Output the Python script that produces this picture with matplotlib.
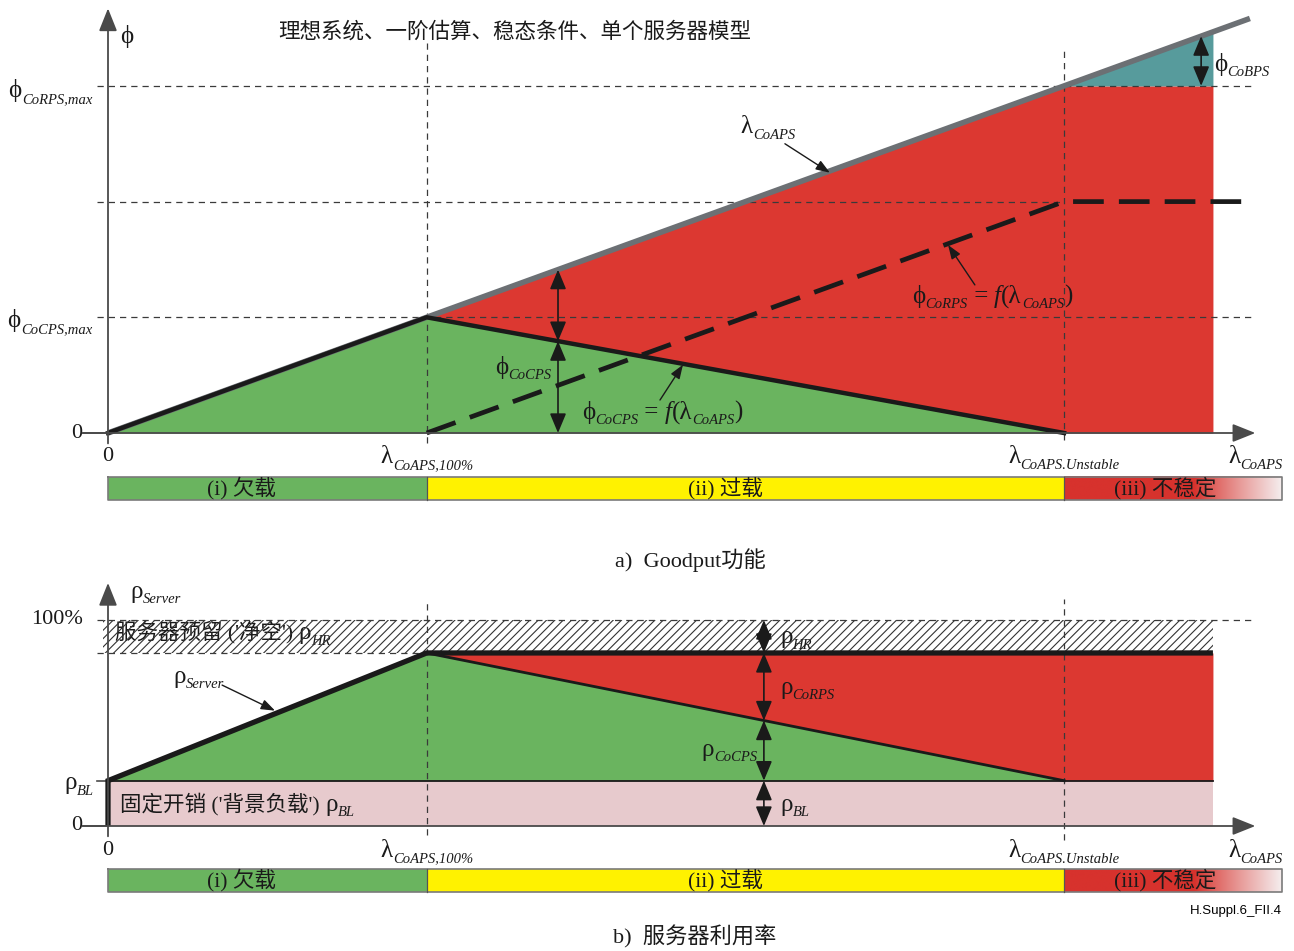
import numpy as np
import matplotlib
matplotlib.use("Agg")
import matplotlib.pyplot as plt

plt.rcParams["font.family"] = ["Liberation Serif", "DejaVu Serif", "Noto Sans CJK SC"]
plt.rcParams["hatch.linewidth"] = 0.8

# λ_CoAPS axis, normalised so that λ_CoAPS,100% = 1
LAM_100 = 1.0
LAM_UNSTABLE = 3.0
LAM_END = 3.467     # right edge of the shaded areas
LAM_AXIS = 3.60     # tip of the λ axis

# a) goodput function (φ in units of φ_CoCPS,max)
offered_lam = [0.0, 3.583]
offered_phi = [0.0, 3.583]
cocps_lam = [0.0, 1.0, 3.0]
cocps_phi = [0.0, 1.0, 0.0]
corps_lam = [1.0, 3.0, 3.568]
corps_phi = [0.0, 2.0, 2.0]
phi_levels = [1.0, 2.0, 3.0]     # φ_CoCPS,max, plateau, φ_CoRPS,max

# b) server utilisation, percent
rho_levels = [22.0, 84.0, 100.0]  # ρ_BL, 100% - ρ_HR, 100%
server_lam = [0.0, 0.0, 1.0, 3.467]
server_rho = [0.0, 22.0, 84.0, 84.0]
split_lam = [1.0, 3.0]
split_rho = [84.0, 22.0]

region_edges = [0.0, 1.0, 3.0, 3.684]
region_labels = ["(i) 欠载", "(ii) 过载", "(iii) 不稳定"]
region_colors = ["#6ab45f", "#fff200", "#d7322d"]
REGION_TEXT_X = [0.42, 1.936, 3.317]

GREEN = "#6ab45f"
RED = "#dc3831"
TEAL = "#579b9c"
GREY = "#6c7074"
PINK = "#e7cacd"
INK = "#1a1a1a"
DASH = "#3a3a3a"

W, H = 1294, 951
PX_LAM = 318.7
fig = plt.figure(figsize=(W / 100, H / 100), dpi=100)
fig.patch.set_facecolor("white")
renderer = fig.canvas.get_renderer()

XLIM = (-108 / PX_LAM, (W - 108) / PX_LAM)
ax1 = fig.add_axes([0, 1 - 520 / H, 1, 520 / H])
ax2 = fig.add_axes([0, 0, 1, 431 / H])


def label(ax, x, y, parts, ha="left", size=18, sub=10.5, zorder=6):
    """Symbol with italic subscripts, laid out piece by piece."""
    items = []
    for s, kind in parts:
        if kind == "sub":
            kw, dy = dict(fontsize=sub, style="italic"), -4.0
        elif kind == "it":
            kw, dy = dict(fontsize=size, style="italic"), 0.0
        elif kind == "cjk":
            kw, dy = dict(fontsize=15.5), 0.0
        else:
            kw, dy = dict(fontsize=size), 0.0
        t = ax.annotate(s, (x, y), xytext=(0, 0), textcoords="offset points",
                        va="baseline", ha="left", color=INK, zorder=zorder,
                        annotation_clip=False, **kw)
        w = t.get_window_extent(renderer).width * 72 / fig.dpi
        items.append((t, dy, w))
    total = sum(w for _, _, w in items)
    pos = {"left": 0.0, "center": -total / 2, "right": -total}[ha]
    for t, dy, w in items:
        t.xyann = (pos, dy - 4.0)
        pos += w


def dbl_arrow(ax, x, y0, y1):
    ax.annotate("", xy=(x, y1), xytext=(x, y0),
                arrowprops=dict(arrowstyle="<|-|>,head_length=0.6,head_width=0.25",
                                color=INK, lw=1.2, mutation_scale=20,
                                shrinkA=0, shrinkB=0), zorder=6)


def pointer(ax, xy, xytext):
    ax.annotate("", xy=xy, xytext=xytext,
                arrowprops=dict(arrowstyle="-|>,head_length=0.6,head_width=0.22",
                                color=INK, lw=1.0, mutation_scale=14,
                                shrinkA=0, shrinkB=0), zorder=6)


def axes_arrows(ax, y_top, y_tick):
    kw = dict(arrowstyle="-|>,head_length=0.7,head_width=0.28",
              color="#4a4a4a", lw=1.3, mutation_scale=20, shrinkA=0, shrinkB=0)
    ax.annotate("", xy=(0, y_top), xytext=(0, -y_tick), arrowprops=kw, zorder=7)
    ax.annotate("", xy=(LAM_AXIS, 0), xytext=(-0.08, 0), arrowprops=kw, zorder=7)


def region_strip(ax, y0, y1, label_y):
    for i, lab in enumerate(region_labels):
        a, b = region_edges[i], region_edges[i + 1]
        if i < 2:
            ax.fill_between([a, b], y0, y1, color=region_colors[i], lw=0, zorder=2)
        else:
            # unstable region fades out towards the right
            t = np.linspace(0, 1, 200)
            fade = np.clip((t - 0.6) / 0.4, 0, 1) ** 0.9
            c0 = np.array(matplotlib.colors.to_rgb(region_colors[i]))
            c1 = np.array([0.96, 0.93, 0.93])
            img = c0[None, :] * (1 - fade[:, None]) + c1[None, :] * fade[:, None]
            ax.imshow(img[None, :, :], extent=[a, b, y0, y1], aspect="auto",
                      zorder=2, interpolation="bilinear")
        ax.text(REGION_TEXT_X[i], label_y, lab, ha="center",
                va="center", fontsize=15.5, color=INK, zorder=4)
    e0, e1 = region_edges[0], region_edges[-1]
    ax.plot([e0, e1, e1, e0, e0], [y0, y0, y1, y1, y0], color="#7a7a7a", lw=1.2, zorder=3)
    for e in region_edges[1:-1]:
        ax.plot([e, e], [y0, y1], color="#555555", lw=0.9, zorder=3)


def lam_labels(ax, y, y0):
    ax.text(0, y0, "0", ha="center", va="center", fontsize=16, color=INK)
    label(ax, LAM_100, y, [("λ", "m"), ("CoAPS,100%", "sub")], ha="center")
    label(ax, LAM_UNSTABLE, y, [("λ", "m"), ("CoAPS.Unstable", "sub")], ha="center")
    label(ax, LAM_AXIS, y, [("λ", "m"), ("CoAPS", "sub")], ha="center")


dash_kw = dict(color=DASH, lw=0.9, ls=(0, (5, 4)), zorder=4)

# ---------------- a) goodput ----------------
x = np.array([LAM_100, LAM_UNSTABLE, LAM_END])
red_lo = np.interp(x, cocps_lam, cocps_phi, right=0.0)
red_hi = np.minimum(np.interp(x, offered_lam, offered_phi), phi_levels[2])
ax1.fill_between(cocps_lam, 0, cocps_phi, color=GREEN, lw=0, zorder=1)
ax1.fill_between(x, red_lo, red_hi, color=RED, lw=0, zorder=1)
xt = np.array([LAM_UNSTABLE, LAM_END])
ax1.fill_between(xt, phi_levels[2], np.interp(xt, offered_lam, offered_phi),
                 color=TEAL, lw=0, zorder=1)

ax1.plot([-0.035, LAM_AXIS], [phi_levels[2]] * 2, **dash_kw)
ax1.plot([-0.035, LAM_UNSTABLE], [phi_levels[1]] * 2, **dash_kw)
ax1.plot([-0.035, LAM_AXIS], [phi_levels[0]] * 2, **dash_kw)
ax1.plot([LAM_100] * 2, [-0.086, 3.37], **dash_kw)
ax1.plot([LAM_UNSTABLE] * 2, [-0.06, 3.31], **dash_kw)

ax1.plot(offered_lam, offered_phi, color=GREY, lw=4, solid_capstyle="butt", zorder=5)
ax1.plot(cocps_lam, cocps_phi, color=INK, lw=3.2, solid_joinstyle="miter", zorder=5)
ax1.plot(corps_lam, corps_phi, color=INK, lw=3.4, ls=(0, (6.5, 3.2)), zorder=5)

axes_arrows(ax1, 3.67, 0.09)
ax1.plot([-0.08, 0], [0, 0], color="#4a4a4a", lw=1.2)

lam_d = 1.412
phi_d = np.interp(lam_d, cocps_lam, cocps_phi)
dbl_arrow(ax1, lam_d, 0, phi_d)
dbl_arrow(ax1, lam_d, phi_d, np.interp(lam_d, offered_lam, offered_phi))
lam_b = 3.43
dbl_arrow(ax1, lam_b, phi_levels[2], np.interp(lam_b, offered_lam, offered_phi))

label(ax1, 0.038, 3.42, [("ϕ", "m")])
ax1.text(1.277, 3.46, "理想系统、一阶估算、稳态条件、单个服务器模型",
         ha="center", va="center", fontsize=15.5, color=INK)
label(ax1, -0.05, 2.95, [("ϕ", "m"), ("CoRPS,max", "sub")], ha="right")
label(ax1, -0.05, 0.96, [("ϕ", "m"), ("CoCPS,max", "sub")], ha="right")
ax1.text(-0.08, 0.0, "0", ha="right", va="center", fontsize=16, color=INK)
lam_labels(ax1, -0.215, -0.2)

label(ax1, 2.071, 2.64, [("λ", "m"), ("CoAPS", "sub")], ha="center")
pointer(ax1, (2.265, 2.25), (2.124, 2.5))
label(ax1, 3.47, 3.18, [("ϕ", "m"), ("CoBPS", "sub")])
label(ax1, 1.302, 0.56, [("ϕ", "m"), ("CoCPS", "sub")], ha="center")
label(ax1, 1.487, 0.17, [("ϕ", "m"), ("CoCPS", "sub"), (" = ", "m"), ("f", "it"),
                         ("(λ", "m"), ("CoAPS", "sub"), (")", "m")])
pointer(ax1, (1.804, 0.59), (1.732, 0.285))
label(ax1, 2.523, 1.175, [("ϕ", "m"), ("CoRPS", "sub"), (" = ", "m"), ("f", "it"),
                          ("(λ", "m"), ("CoAPS", "sub"), (")", "m")])
pointer(ax1, (2.636, 1.625), (2.72, 1.28))

region_strip(ax1, -0.38, -0.579, -0.475)

ax1.set_xlim(*XLIM)
ax1.set_ylim(-87 / 115.7, 433 / 115.7)
ax1.set_axis_off()

# ---------------- b) server utilisation ----------------
rho_bl, rho_top, rho_full = rho_levels
ax2.fill_between([0, LAM_END], 0, rho_bl, color=PINK, lw=0, zorder=1)
ax2.fill_between([0, LAM_100, LAM_UNSTABLE], rho_bl,
                 [rho_bl, rho_top, rho_bl], color=GREEN, lw=0, zorder=1)
ax2.fill_between([LAM_100, LAM_UNSTABLE, LAM_END], [rho_top, rho_bl, rho_bl],
                 rho_top, color=RED, lw=0, zorder=1)
ax2.fill_between([-0.016, LAM_END], rho_top, rho_full, facecolor="none",
                 edgecolor="#333333", hatch="////", lw=0, zorder=3)

ax2.plot([-0.035, LAM_AXIS], [rho_full] * 2, **dash_kw)
ax2.plot([-0.035, LAM_UNSTABLE], [rho_top] * 2, **dash_kw)
ax2.plot([LAM_100] * 2, [-4.4, 110], **dash_kw)
ax2.plot([LAM_UNSTABLE] * 2, [-6.8, 110], **dash_kw)
ax2.plot([-0.035, 0], [rho_bl] * 2, color="#4a4a4a", lw=1.2)
ax2.plot([-0.08, 0], [0, 0], color="#4a4a4a", lw=1.2)

ax2.plot([0, LAM_END], [rho_bl] * 2, color=INK, lw=1.3, zorder=5)
ax2.plot(split_lam, split_rho, color=INK, lw=2.0, zorder=5)
ax2.plot(server_lam, server_rho, color=INK, lw=3.8, solid_joinstyle="miter",
         solid_capstyle="butt", zorder=5)

axes_arrows(ax2, 118, 5)

lam_d2 = 2.058
rho_mid = np.interp(lam_d2, split_lam, split_rho)
dbl_arrow(ax2, lam_d2, rho_top, rho_full)
dbl_arrow(ax2, lam_d2, rho_mid, rho_top)
dbl_arrow(ax2, lam_d2, rho_bl, rho_mid)
dbl_arrow(ax2, lam_d2, 0, rho_bl)

label(ax2, 0.069, 113.5, [("ρ", "m"), ("Server", "sub")])
ax2.text(-0.08, rho_full, "100%", ha="right", va="center", fontsize=16, color=INK)
label(ax2, -0.045, rho_bl - 1.5, [("ρ", "m"), ("BL", "sub")], ha="right")
ax2.text(-0.08, 0, "0", ha="right", va="center", fontsize=16, color=INK)
label(ax2, 0.022, 93.5, [("服务器预留 ('净空') ", "cjk"), ("ρ", "m"), ("HR", "sub")],
      zorder=2)
label(ax2, 0.038, 10.2, [("固定开销 ('背景负载') ", "cjk"), ("ρ", "m"), ("BL", "sub")])
label(ax2, 0.204, 72.3, [("ρ", "m"), ("Server", "sub")])
pointer(ax2, (0.524, 56.0), (0.358, 68.4))
label(ax2, 2.109, 91.5, [("ρ", "m"), ("HR", "sub")])
label(ax2, 2.109, 67, [("ρ", "m"), ("CoRPS", "sub")])
label(ax2, 2.036, 36.9, [("ρ", "m"), ("CoCPS", "sub")], ha="right")
label(ax2, 2.109, 10.2, [("ρ", "m"), ("BL", "sub")])
lam_labels(ax2, -12.4, -11.7)

region_strip(ax2, -20.9, -32.0, -26.2)

ax2.set_xlim(*XLIM)
ax2.set_ylim(-125 / 2.06, 306 / 2.06)
ax2.set_axis_off()

fig.text(690 / W, 1 - 560 / H, "a)  Goodput功能", ha="center", va="center",
         fontsize=16, color=INK)
fig.text(695 / W, 1 - 937 / H, "b)  服务器利用率", ha="center", va="center",
         fontsize=16, color=INK)
fig.text(1282 / W, 1 - 911 / H, "H.Suppl.6_FII.4", ha="right", va="center",
         fontsize=9.5, family=["Liberation Sans Narrow", "Liberation Sans", "DejaVu Sans"])

fig.savefig("out.png", dpi=100, facecolor="white")
